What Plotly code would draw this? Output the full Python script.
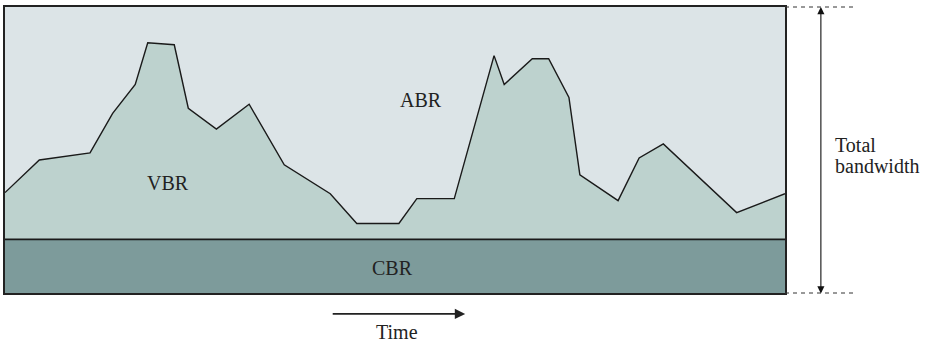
import plotly.graph_objects as go

# time axis 0..100, bandwidth 0..100 (100 = total bandwidth)
time = [0, 4.4, 10.9, 13.8, 16.7, 18.3, 21.7, 23.5, 27.1, 31.3, 35.8, 41.7, 45.1, 50.5,
        52.8, 57.6, 62.7, 64.0, 67.6, 69.7, 72.3, 73.7, 78.6, 81.3, 84.4, 93.8, 100]
vbr = [35.1, 46.5, 49.0, 62.8, 72.9, 87.5, 86.8, 64.6, 57.3, 66.0, 44.8, 34.7, 24.3, 24.3,
       33.0, 33.0, 83.0, 72.9, 81.9, 81.9, 68.4, 41.3, 32.3, 47.2, 52.1, 28.1, 34.7]
cbr_level = 18.75
total = 100

labels = ["ABR", "VBR", "CBR"]
label_t = [53.3, 20.9, 49.7]
label_v = [67.5, 38.5, 8.7]

ABR_COL = "#dce4e7"
VBR_COL = "#bdd2ce"
CBR_COL = "#7d9b9b"
FONT = "Liberation Serif"

fig = go.Figure()
fig.add_trace(go.Scatter(x=time, y=vbr, mode="lines", fill="tozeroy", fillcolor=VBR_COL,
                         line=dict(color="#1a1a1a", width=1.4), hoverinfo="skip"))
fig.add_trace(go.Scatter(x=[0, 100], y=[cbr_level, cbr_level], mode="lines", fill="tozeroy",
                         fillcolor=CBR_COL, line=dict(color="#1a1a1a", width=1.6), hoverinfo="skip"))

for txt, t, v in zip(labels, label_t, label_v):
    fig.add_annotation(x=t, y=v, text=txt, showarrow=False,
                       font=dict(family=FONT, size=20, color="#222"))

# total bandwidth arrow + dashed guides
fig.add_annotation(xref="paper", yref="paper", x=1.046, y=1, ax=0, ay=288, text="",
                   showarrow=True, arrowhead=2, arrowside="end+start", arrowsize=1.3,
                   arrowwidth=1.1, arrowcolor="#111", startarrowhead=2, startarrowsize=1.3)
for yy in [0, 1]:
    fig.add_shape(type="line", xref="paper", yref="paper", x0=1, x1=1.092, y0=yy, y1=yy,
                  line=dict(color="#333", width=1, dash="4px,4px"))
fig.add_annotation(xref="paper", yref="paper", x=1.061, y=0.518, text="Total",
                   showarrow=False, xanchor="left", yanchor="middle",
                   font=dict(family=FONT, size=20, color="#222"))
fig.add_annotation(xref="paper", yref="paper", x=1.061, y=0.445, text="bandwidth",
                   showarrow=False, xanchor="left", yanchor="middle",
                   font=dict(family=FONT, size=20, color="#222"))

# time arrow
fig.add_annotation(xref="paper", yref="paper", x=0.590, y=-0.073, ax=-134, ay=0, text="",
                   showarrow=True, arrowhead=2, arrowsize=1.3, arrowwidth=1.6, arrowcolor="#222")
fig.add_annotation(xref="paper", yref="paper", x=0.503, y=-0.135, text="Time", showarrow=False,
                   xanchor="center", yanchor="middle",
                   font=dict(family=FONT, size=20, color="#222"))

fig.update_xaxes(range=[0, 100], showgrid=False, zeroline=False, showticklabels=False,
                 showline=True, mirror=True, linecolor="#222", linewidth=1.5, ticks="")
fig.update_yaxes(range=[0, total], showgrid=False, zeroline=False, showticklabels=False,
                 showline=True, mirror=True, linecolor="#222", linewidth=1.5, ticks="")
fig.update_layout(width=927, height=342, margin=dict(l=5, r=142, t=5, b=49),
                  plot_bgcolor=ABR_COL, paper_bgcolor="white", showlegend=False)

fig.write_html("out.html", config={"displayModeBar": False},
               post_script="document.body.style.margin='0';")
